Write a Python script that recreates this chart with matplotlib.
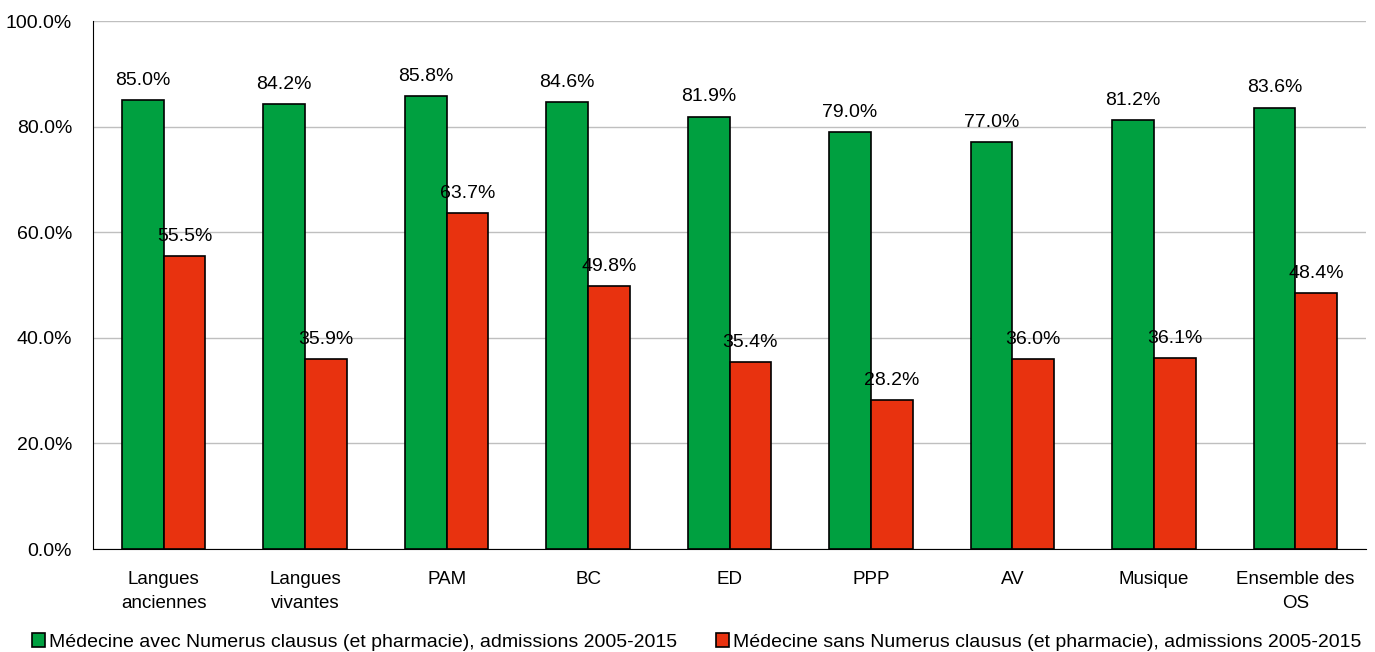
import matplotlib
matplotlib.use('Agg')
import matplotlib.pyplot as plt
import numpy as np
from matplotlib.ticker import PercentFormatter

categories = ['Langues\nanciennes', 'Langues\nvivantes', 'PAM', 'BC', 'ED', 'PPP', 'AV',
              'Musique', 'Ensemble des\nOS']
avec_nc = [85.0, 84.2, 85.8, 84.6, 81.9, 79.0, 77.0, 81.2, 83.6]
sans_nc = [55.5, 35.9, 63.7, 49.8, 35.4, 28.2, 36.0, 36.1, 48.4]
series_names = ['Médecine avec Numerus clausus (et pharmacie), admissions 2005-2015',
                'Médecine sans Numerus clausus (et pharmacie), admissions 2005-2015']

GREEN = '#00A040'
RED = '#E8320F'

plt.rcParams['font.family'] = ['Liberation Sans', 'DejaVu Sans']

fig = plt.figure(figsize=(13.75, 6.52), dpi=100)
ax = fig.add_axes([93 / 1375, 1 - 549 / 652, 1273 / 1375, 528 / 652])

x = np.arange(len(categories))
w = 0.295
b1 = ax.bar(x - w / 2, avec_nc, w, color=GREEN, edgecolor='black', linewidth=1.2,
            label=series_names[0], zorder=3)
b2 = ax.bar(x + w / 2, sans_nc, w, color=RED, edgecolor='black', linewidth=1.2,
            label=series_names[1], zorder=3)

for bars, vals in ((b1, avec_nc), (b2, sans_nc)):
    for rect, v in zip(bars, vals):
        ax.annotate(f'{v:.1f}%', (rect.get_x() + rect.get_width() / 2, v),
                    xytext=(0, 8), textcoords='offset points',
                    ha='center', va='bottom', fontsize=14)

ax.set_xlim(-0.5, len(categories) - 0.5)
ax.set_ylim(0, 100)
ax.set_yticks(np.arange(0, 101, 20))
ax.yaxis.set_major_formatter(PercentFormatter(decimals=1))
ax.set_xticks(x)
ax.set_xticklabels(categories, fontsize=13.5, linespacing=1.5)
ax.tick_params(axis='y', labelsize=14, length=0, pad=15)
ax.tick_params(axis='x', length=0, pad=16)
ax.grid(axis='y', color='#BFBFBF', linewidth=1, zorder=0)
for s in ('top', 'right'):
    ax.spines[s].set_visible(False)
ax.spines['left'].set_color('black')
ax.spines['bottom'].set_color('black')

fig.legend(handles=[b1, b2], loc='center left', bbox_to_anchor=(32 / 1375, 1 - 642 / 652), ncol=2,
           frameon=False, fontsize=14, handlelength=0.68, handleheight=0.68,
           handletextpad=0.2, columnspacing=2.0, borderpad=0, borderaxespad=0)

fig.savefig('out.png', dpi=100)
